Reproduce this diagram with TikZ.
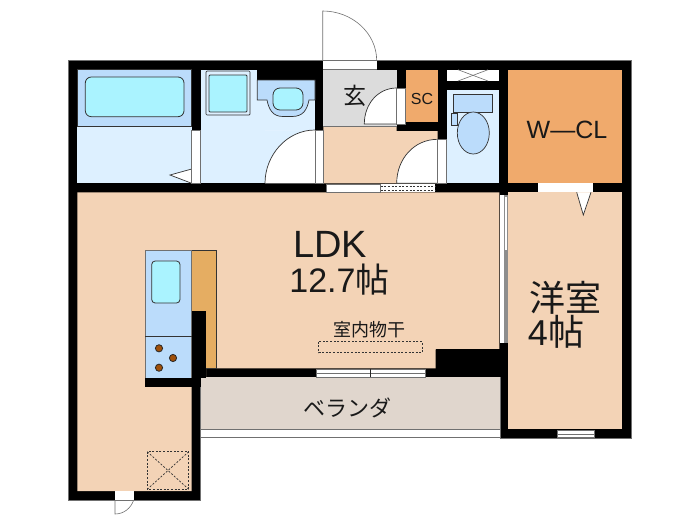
\documentclass[tikz,border=0pt]{standalone}
\usepackage{fontspec}
\setmainfont{Liberation Sans}
\newfontfamily\cjk{Noto Sans CJK JP}
\usepackage{xcolor}
\definecolor{floorBeige}{HTML}{F3D3B6}
\definecolor{closetOrange}{HTML}{F0AA6C}
\definecolor{counterOrange}{HTML}{E5AD62}
\definecolor{wetBlue}{HTML}{DDF0FF}
\definecolor{fixBlue}{HTML}{BBDCFB}
\definecolor{waterCyan}{HTML}{AAF3FF}
\definecolor{entryGrey}{HTML}{DCDCDC}
\definecolor{verandaGrey}{HTML}{E0D6CD}
\definecolor{burnerBrown}{HTML}{A0500A}
\definecolor{edgeGrey}{HTML}{707070}
\tikzset{%
  % Specifications for style of shapes:
      wallLine/.style = {fill=black, draw=edgeGrey, line width=0.6pt},
      wallFill/.style = {fill=black},
     roomPlain/.style = {fill=floorBeige},
       wetRoom/.style = {fill=wetBlue},
       fixture/.style = {fill=fixBlue, draw=black!80, line width=0.7pt},
         water/.style = {fill=waterCyan, draw=black!80, line width=0.8pt, rounded corners=3.5pt},
      opening/.style = {fill=white},
     doorSwing/.style = {fill=white, draw=black!80, line width=0.7pt},
      thinEdge/.style = {draw=edgeGrey, line width=0.6pt},
      dashEdge/.style = {draw=black!80, line width=0.7pt, dash pattern=on 2pt off 1.6pt},
        label/.style = {inner sep=0pt, text=black!90},
}
\begin{document}
\begin{tikzpicture}[x=1pt, y=-1pt]
  \useasboundingbox (0,0) rectangle (700,525);
  % Outer walls
  \path[wallLine] (68.7,60.7) -- (631.7,60.7) -- (631.7,438) -- (500,438) -- (500,377.3)
     -- (200.7,377.3) -- (200.7,500) -- (68.7,500) -- cycle;
  % Rooms
  \path[wetRoom] (77.3,69.7) rectangle (191.7,183.3);
  \path[wetRoom] (200.7,69.7) rectangle (315,183.3);
  \path[wetRoom] (446.7,90) rectangle (499.3,183.3);
  \path[fill=entryGrey] (323.3,69.7) rectangle (396.7,126.7);
  \path[roomPlain] (323.3,126.7) -- (396.7,126.7) -- (396.7,131) -- (437.7,131)
     -- (437.7,183.3) -- (323.3,183.3) -- cycle;
  \path[fill=closetOrange] (405.7,69.7) rectangle (437.7,122);
  \path[fill=closetOrange] (508.3,69.7) rectangle (622.3,183.3);
  \path[roomPlain] (77.3,192.3) -- (499.3,192.3) -- (499.3,349.3) -- (435.7,349.3)
     -- (435.7,368.3) -- (206,368.3) -- (206,378) -- (191.7,378) -- (191.7,491)
     -- (77.3,491) -- cycle;
  \path[roomPlain] (508.3,192.3) rectangle (622.3,429);
  \path[fill=verandaGrey] (200.7,377.3) rectangle (500,429);
  \path[opening] (200.7,429) rectangle (500,437.7);
  \draw[thinEdge] (200.7,429) -- (500,429);
  \draw[thinEdge] (200.7,437.7) -- (500,437.7);
  % Bath
  \draw[black!80, line width=0.7pt, fill=fixBlue] (77.3,69.7) rectangle (191.7,126.7);
  \path[water, rounded corners=6pt] (85.3,77) rectangle (184,116.7);
  \path[doorSwing] (191.7,169) -- (170,175) -- (191.7,183.3);
  \path[opening] (191.7,130) rectangle (200.7,183.3);
  \draw[thinEdge] (191.7,130) rectangle (200.7,183.3);
  % Wash room
  \path[wallFill] (257.3,69.7) rectangle (315,80);
  \path[fixture] (257.3,80) -- (315,80) -- (315,100) -- (309,100)
     .. controls (307,110) and (303,116.5) .. (292,116.5) -- (283,116.5)
     .. controls (273,116.5) and (269,110) .. (267,100) -- (257.3,100) -- cycle;
  \path[water, rounded corners=7pt] (273,88) rectangle (303,110);
  \path[fixture, fill=wetBlue, rounded corners=1pt] (206,71) rectangle (250,115);
  \path[water, rounded corners=1pt] (209,75) rectangle (247,112);
  \path[opening] (265,130) -- (315,130) -- (315,183.3) -- (265,183.3)
     .. controls (265,155) and (287,130) .. (315,130);
  \draw[black!80, line width=0.7pt] (315,130) .. controls (287,130) and (265,155) .. (265,183.3);
  \path[opening] (315,130) rectangle (323.3,183.3);
  \draw[thinEdge] (315,130) rectangle (323.3,183.3);
  % Entrance
  \path[opening] (322.7,60.7) rectangle (376.7,69.7);
  \draw[thinEdge] (322.7,69.7) -- (376.7,69.7);
  \draw[thinEdge] (322.7,60.7) -- (322.7,11) .. controls (352,11) and (376.7,33) .. (376.7,60.7);
  \path[wallFill] (396.7,69.7) rectangle (405.7,131);
  \path[wallFill] (396.7,122) rectangle (437.7,131);
  \path[doorSwing] (396.7,88) .. controls (378,88) and (364.3,104) .. (364.3,124) -- (396.7,124) -- cycle;
  \path[opening] (396.7,88) rectangle (405.7,124);
  \draw[thinEdge] (396.7,88) rectangle (405.7,124);
  \draw[thinEdge] (323.3,126.7) -- (396.7,126.7);
  % Hall
  \path[doorSwing] (437.7,139.3) .. controls (414,139.3) and (396.7,159) .. (396.7,183.3) -- (437.7,183.3) -- cycle;
  \path[opening] (437.7,139.3) rectangle (446.7,183.3);
  \draw[thinEdge] (437.7,139.3) rectangle (446.7,183.3);
  \path[opening] (326.7,184.3) rectangle (435,192);
  \draw[thinEdge] (326.7,184.3) rectangle (380.7,192);
  \draw[dashEdge] (380.7,186) -- (435,186);
  \draw[dashEdge] (380.7,190) -- (435,190);
  % Toilet
  \path[opening] (446.7,69.7) rectangle (499.3,81);
  \draw[thinEdge] (458,69.7) -- (488,81);
  \draw[thinEdge] (488,69.7) -- (458,81);
  \path[fixture] (453.3,94.3) rectangle (492.7,112.3);
  \path[fixture] (451.3,113) rectangle (457.3,125);
  \path[fixture] (473.3,133) ellipse [x radius=16, y radius=21];
  % Door of the closet
  \path[opening] (538,183.3) rectangle (592.7,192.3);
  \path[doorSwing] (576.7,192.3) -- (583.3,215) -- (591,192.3);
  % Sliding door of the western room
  \path[opening] (500,195) rectangle (504,342.7);
  \path[fill=edgeGrey!80] (504,195) rectangle (508.3,342.7);
  \path[opening] (504.5,197) rectangle (507,250);
  % Kitchen
  \path[fill=counterOrange, draw=black!80, line width=0.5pt] (191.7,250) rectangle (216.7,368.3);
  \path[fixture, draw=edgeGrey, line width=0.5pt] (145,250) rectangle (191.7,378.3);
  \draw[black!80, line width=0.7pt] (145,336) -- (191.7,336);
  \path[water] (151.7,261) rectangle (180,303);
  \path[wallFill] (191.7,310.7) rectangle (206,378.3);
  \path[wallFill] (145,378.3) rectangle (200.7,387.3);
  \foreach \bx/\by in {159/348.3, 173/358, 159/367.7}
    \path[fill=burnerBrown, draw=black!85, line width=0.8pt] (\bx,\by) circle (3.6);
  % Block beside the western room
  \path[wallFill] (435.7,349.3) rectangle (508.3,377.3);
  % Windows
  \path[opening] (316,369) rectangle (425,377);
  \draw[thinEdge] (316,369) rectangle (425,377);
  \draw[thinEdge] (316,373) -- (425,373);
  \draw[black!85, line width=0.7pt] (370,369) -- (370,377);
  \path[opening] (557.3,430) rectangle (594,437.7);
  \draw[thinEdge] (557.3,430) rectangle (594,437.7);
  \draw[thinEdge] (557.3,434) -- (594,434);
  % Service door and vent
  \path[opening] (115,491) rectangle (133.7,500);
  \draw[thinEdge, fill=white] (115,500) -- (115,514) .. controls (124,514) and (131,508) .. (133.7,500);
  \draw[thinEdge] (115,500) -- (133.7,500);
  \draw[dashEdge] (147.3,451.7) rectangle (188.7,489.3);
  \draw[dashEdge] (147.3,451.7) -- (188.7,489.3);
  \draw[dashEdge] (188.7,451.7) -- (147.3,489.3);
  \draw[dashEdge] (318.7,341.7) rectangle (422.3,352.7);
  % Labels
  \node (ldkName)    [label, font=\fontsize{38}{38}\selectfont] at (330,244) {LDK};
  \node (ldkSize)    [label, font=\fontsize{34}{34}\selectfont] at (339.5,280) {12.7{\cjk 帖}};
  \node (roomName)   [label, font=\fontsize{36}{36}\selectfont\cjk] at (565,298) {洋室};
  \node (roomSize)   [label, font=\fontsize{36}{36}\selectfont] at (556,332) {4{\cjk 帖}};
  \node (closetName) [label, font=\fontsize{25}{25}\selectfont] at (567,130) {W—CL};
  \node (scName)     [label, font=\fontsize{16}{16}\selectfont] at (422,99) {SC};
  \node (entryName)  [label, font=\fontsize{23}{23}\selectfont\cjk] at (355,96) {玄};
  \node (dryName)    [label, font=\fontsize{18}{18}\selectfont\cjk] at (369,330) {室内物干};
  \node (verandaName)[label, font=\fontsize{22}{22}\selectfont\cjk] at (347,408) {ベランダ};
\end{tikzpicture}
\end{document}
